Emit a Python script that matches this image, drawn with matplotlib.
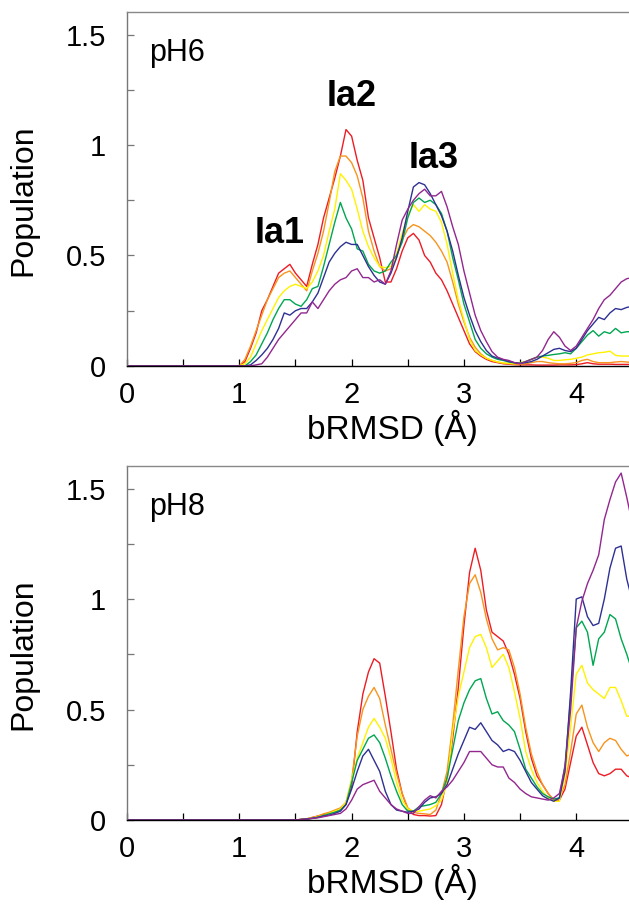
import numpy as np
import matplotlib

matplotlib.use("Agg")
import matplotlib.pyplot as plt
from matplotlib.ticker import MultipleLocator

plt.rcParams["font.family"] = ["Liberation Sans", "DejaVu Sans"]

# bin centres (Å); populations start at these values, zero before them
rmsd_ph6 = np.round(np.arange(1.0, 4.501, 0.05), 2)
rmsd_ph8 = np.round(np.arange(1.5, 4.501, 0.05), 2)

colors = ["#ed1c24", "#f7941d", "#fff200", "#00a651", "#2e3192", "#92278f"]

ph6_red = [0.0, 0.02, 0.08, 0.15, 0.25, 0.30, 0.36, 0.42, 0.44, 0.46,
           0.42, 0.39, 0.36, 0.46, 0.55, 0.67, 0.76, 0.85, 0.95, 1.07,
           1.04, 0.93, 0.84, 0.67, 0.58, 0.49, 0.38, 0.38, 0.44, 0.52,
           0.58, 0.60, 0.57, 0.50, 0.47, 0.42, 0.39, 0.34, 0.28, 0.22,
           0.16, 0.10, 0.065, 0.045, 0.03, 0.02, 0.015, 0.01, 0.008, 0.006,
           0.005, 0.005, 0.005, 0.004, 0.004, 0.004, 0.004, 0.005, 0.005, 0.005,
           0.006, 0.01, 0.015, 0.01, 0.008, 0.008, 0.008, 0.007, 0.007, 0.007, 0.007]
ph6_orange = [0.0, 0.03, 0.09, 0.16, 0.23, 0.30, 0.35, 0.40, 0.42, 0.43,
              0.40, 0.37, 0.34, 0.43, 0.51, 0.61, 0.74, 0.88, 0.95, 0.95,
              0.92, 0.86, 0.76, 0.61, 0.52, 0.45, 0.43, 0.44, 0.49, 0.57,
              0.62, 0.64, 0.63, 0.61, 0.59, 0.56, 0.52, 0.47, 0.38, 0.28,
              0.20, 0.13, 0.085, 0.055, 0.035, 0.025, 0.018, 0.012, 0.01, 0.008,
              0.008, 0.01, 0.015, 0.02, 0.02, 0.015, 0.012, 0.01, 0.01, 0.012,
              0.015, 0.025, 0.03, 0.02, 0.015, 0.015, 0.015, 0.018, 0.02, 0.018, 0.015]
ph6_yellow = [0.0, 0.01, 0.04, 0.10, 0.16, 0.21, 0.26, 0.31, 0.34, 0.36,
              0.37, 0.36, 0.35, 0.38, 0.43, 0.50, 0.61, 0.71, 0.87, 0.84,
              0.80, 0.71, 0.61, 0.54, 0.49, 0.45, 0.445, 0.45, 0.51, 0.60,
              0.68, 0.73, 0.70, 0.73, 0.71, 0.70, 0.65, 0.55, 0.42, 0.30,
              0.21, 0.12, 0.07, 0.05, 0.035, 0.025, 0.018, 0.014, 0.012, 0.01,
              0.015, 0.02, 0.03, 0.04, 0.04, 0.035, 0.025, 0.025, 0.028, 0.03,
              0.035, 0.04, 0.05, 0.055, 0.06, 0.062, 0.067, 0.048, 0.045, 0.045, 0.045]
ph6_green = [0.0, 0.0, 0.02, 0.05, 0.10, 0.15, 0.21, 0.26, 0.30, 0.30,
             0.28, 0.27, 0.30, 0.35, 0.36, 0.45, 0.55, 0.65, 0.74, 0.67,
             0.62, 0.53, 0.52, 0.46, 0.43, 0.42, 0.43, 0.47, 0.50, 0.56,
             0.67, 0.74, 0.76, 0.74, 0.75, 0.73, 0.69, 0.61, 0.49, 0.39,
             0.28, 0.20, 0.12, 0.08, 0.055, 0.04, 0.03, 0.025, 0.018, 0.014,
             0.012, 0.02, 0.03, 0.04, 0.045, 0.048, 0.052, 0.055, 0.06, 0.055,
             0.08, 0.11, 0.14, 0.16, 0.135, 0.155, 0.147, 0.17, 0.15, 0.155, 0.155]
ph6_blue = [0.0, 0.0, 0.005, 0.025, 0.05, 0.08, 0.12, 0.17, 0.24, 0.23,
            0.25, 0.26, 0.26, 0.29, 0.33, 0.40, 0.47, 0.51, 0.54, 0.56,
            0.55, 0.55, 0.50, 0.45, 0.41, 0.38, 0.37, 0.42, 0.49, 0.58,
            0.70, 0.81, 0.83, 0.82, 0.78, 0.73, 0.68, 0.61, 0.52, 0.41,
            0.31, 0.23, 0.16, 0.11, 0.07, 0.045, 0.035, 0.028, 0.02, 0.015,
            0.012, 0.015, 0.02, 0.03, 0.045, 0.06, 0.075, 0.08, 0.07, 0.065,
            0.08, 0.12, 0.16, 0.19, 0.22, 0.21, 0.24, 0.26, 0.255, 0.265, 0.27]
ph6_purple = [0.0, 0.0, 0.0, 0.005, 0.01, 0.04, 0.08, 0.12, 0.15, 0.18,
              0.21, 0.24, 0.24, 0.29, 0.26, 0.30, 0.34, 0.37, 0.39, 0.40,
              0.43, 0.44, 0.40, 0.40, 0.38, 0.39, 0.37, 0.43, 0.55, 0.66,
              0.71, 0.75, 0.78, 0.80, 0.77, 0.77, 0.79, 0.72, 0.63, 0.55,
              0.43, 0.33, 0.23, 0.16, 0.11, 0.065, 0.04, 0.03, 0.025, 0.015,
              0.01, 0.02, 0.03, 0.04, 0.07, 0.12, 0.155, 0.13, 0.09, 0.07,
              0.09, 0.13, 0.17, 0.21, 0.26, 0.30, 0.32, 0.35, 0.38, 0.395, 0.40]

ph8_red = [0.0, 0.003, 0.005, 0.012, 0.018, 0.025, 0.03, 0.04, 0.05, 0.075,
           0.15, 0.40, 0.57, 0.67, 0.73, 0.71, 0.56, 0.40, 0.23, 0.12,
           0.05, 0.025, 0.02, 0.02, 0.018, 0.02, 0.07, 0.19, 0.37, 0.60,
           0.88, 1.12, 1.23, 1.13, 0.95, 0.85, 0.83, 0.81, 0.75, 0.66,
           0.55, 0.40, 0.28, 0.20, 0.16, 0.12, 0.09, 0.09, 0.14, 0.26,
           0.38, 0.42, 0.34, 0.26, 0.21, 0.20, 0.21, 0.23, 0.23, 0.20, 0.19]
ph8_orange = [0.0, 0.003, 0.006, 0.01, 0.018, 0.028, 0.035, 0.045, 0.055, 0.08,
              0.18, 0.38, 0.50, 0.56, 0.60, 0.55, 0.43, 0.32, 0.21, 0.12,
              0.055, 0.035, 0.03, 0.028, 0.025, 0.045, 0.12, 0.22, 0.43, 0.68,
              0.92, 1.07, 1.11, 1.03, 0.91, 0.82, 0.77, 0.78, 0.77, 0.69,
              0.57, 0.42, 0.30, 0.22, 0.16, 0.12, 0.09, 0.10, 0.16, 0.31,
              0.48, 0.52, 0.42, 0.35, 0.31, 0.35, 0.37, 0.36, 0.32, 0.29, 0.30]
ph8_yellow = [0.0, 0.003, 0.005, 0.01, 0.015, 0.02, 0.03, 0.04, 0.05, 0.08,
              0.18, 0.28, 0.35, 0.42, 0.46, 0.42, 0.37, 0.28, 0.17, 0.09,
              0.05, 0.04, 0.04, 0.045, 0.05, 0.065, 0.09, 0.17, 0.40, 0.56,
              0.67, 0.78, 0.83, 0.84, 0.78, 0.69, 0.72, 0.75, 0.69, 0.58,
              0.46, 0.31, 0.23, 0.17, 0.13, 0.10, 0.085, 0.085, 0.20, 0.42,
              0.66, 0.70, 0.62, 0.59, 0.57, 0.55, 0.60, 0.60, 0.54, 0.47, 0.47]
ph8_green = [0.0, 0.002, 0.004, 0.008, 0.013, 0.02, 0.028, 0.035, 0.045, 0.07,
             0.17, 0.27, 0.32, 0.37, 0.385, 0.35, 0.28, 0.20, 0.13, 0.07,
             0.04, 0.04, 0.06, 0.065, 0.07, 0.08, 0.12, 0.19, 0.32, 0.45,
             0.53, 0.59, 0.63, 0.64, 0.55, 0.48, 0.49, 0.45, 0.43, 0.40,
             0.32, 0.23, 0.19, 0.15, 0.12, 0.105, 0.095, 0.10, 0.25, 0.55,
             0.87, 0.90, 0.85, 0.70, 0.82, 0.85, 0.93, 0.91, 0.82, 0.75, 0.67]
ph8_blue = [0.0, 0.003, 0.005, 0.008, 0.012, 0.018, 0.022, 0.03, 0.04, 0.07,
            0.14, 0.22, 0.29, 0.32, 0.27, 0.22, 0.13, 0.07, 0.045, 0.04,
            0.035, 0.04, 0.05, 0.08, 0.10, 0.105, 0.12, 0.16, 0.23, 0.30,
            0.36, 0.42, 0.41, 0.44, 0.40, 0.36, 0.34, 0.31, 0.32, 0.31,
            0.27, 0.22, 0.17, 0.14, 0.11, 0.095, 0.085, 0.10, 0.22, 0.58,
            1.00, 1.01, 0.92, 0.88, 0.89, 1.00, 1.14, 1.23, 1.24, 1.09, 0.99]
ph8_purple = [0.0, 0.002, 0.004, 0.007, 0.01, 0.015, 0.02, 0.025, 0.03, 0.05,
              0.09, 0.14, 0.16, 0.17, 0.18, 0.13, 0.10, 0.07, 0.05, 0.04,
              0.03, 0.03, 0.06, 0.09, 0.11, 0.10, 0.13, 0.15, 0.18, 0.22,
              0.26, 0.31, 0.31, 0.31, 0.28, 0.25, 0.24, 0.24, 0.19, 0.17,
              0.14, 0.12, 0.105, 0.10, 0.095, 0.09, 0.10, 0.12, 0.24, 0.50,
              0.87, 0.99, 1.07, 1.13, 1.20, 1.36, 1.45, 1.53, 1.57, 1.46, 1.34]

panels = [
    ("pH6", rmsd_ph6, [ph6_red, ph6_orange, ph6_yellow, ph6_green, ph6_blue, ph6_purple]),
    ("pH8", rmsd_ph8, [ph8_red, ph8_orange, ph8_yellow, ph8_green, ph8_blue, ph8_purple]),
]
peak_labels = [("Ia1", 1.36, 0.60), ("Ia2", 2.0, 1.22), ("Ia3", 2.73, 0.94)]


def _format_axis(axis) -> None:
    axis.set_xlim(0, 4.5)
    axis.set_ylim(0, 1.6)
    axis.xaxis.set_major_locator(MultipleLocator(1))
    axis.xaxis.set_minor_locator(MultipleLocator(0.5))
    axis.yaxis.set_major_locator(MultipleLocator(0.5))
    axis.yaxis.set_minor_locator(MultipleLocator(0.25))
    axis.set_yticks([0, 0.5, 1, 1.5], ["0", "0.5", "1", "1.5"])
    axis.tick_params(which="both", direction="in", length=5, width=0.9, labelsize=21)
    axis.tick_params(axis="x", which="both", pad=11, color="black")
    axis.tick_params(axis="y", which="both", pad=15, color="#777777")
    axis.spines["right"].set_visible(False)
    axis.spines["top"].set_color("#888888")
    axis.spines["left"].set_color("#777777")
    for side in ("top", "left", "bottom"):
        axis.spines[side].set_linewidth(1.0)
    axis.set_xlabel("bRMSD (Å)", fontsize=24)
    axis.set_ylabel("Population", fontsize=23)
    axis.xaxis.set_label_coords(0.525, -0.125)
    axis.yaxis.set_label_coords(-0.176, 0.47)


fig = plt.figure(figsize=(6.29, 9.07), dpi=100)
boxes = [[0.2019, 0.5965, 0.8035, 0.3898], [0.2019, 0.0959, 0.8035, 0.3898]]

for box, (name, rmsd, series) in zip(boxes, panels):
    ax = fig.add_axes(box)
    for values, color in zip(series, colors):
        ax.plot(np.r_[0.0, rmsd], np.r_[0.0, values], color=color, linewidth=1.0)
    _format_axis(ax)
    ax.text(0.2, 1.38, name, fontsize=22, ha="left", va="baseline")
    if name == "pH6":
        for label, x, y in peak_labels:
            ax.text(x, y, label, fontsize=26, fontweight="bold", ha="center", va="center")

fig.savefig("out.png", dpi=100)
plt.close(fig)
